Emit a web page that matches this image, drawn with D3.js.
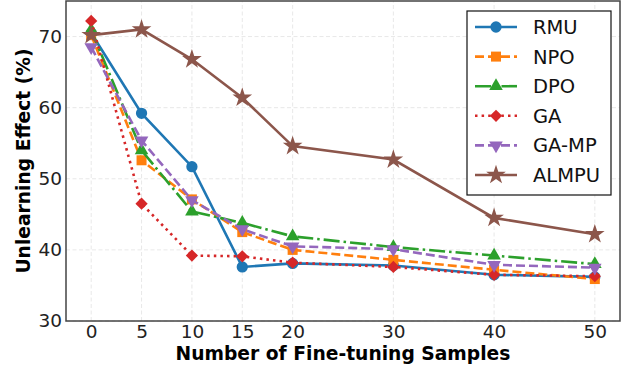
<!DOCTYPE html>
<html>
<head>
<meta charset="utf-8">
<script src="https://cdnjs.cloudflare.com/ajax/libs/d3/7.8.5/d3.min.js"></script>
<style>
  body { margin: 0; background: #fff; }
  svg { font-family: "DejaVu Sans", sans-serif; }
</style>
</head>
<body>
<div id="chart"></div>
<script>
// data
var samples = [0, 5, 10, 15, 20, 30, 40, 50];
var yTicks = [30, 40, 50, 60, 70];
var methods = ["RMU", "NPO", "DPO", "GA", "GA-MP", "ALMPU"];

var rmu   = [70.5, 59.2, 51.7, 37.6, 38.1, 37.8, 36.5, 36.2];
var npo   = [70.2, 52.6, 47.1, 42.5, 40.0, 38.6, 37.2, 35.9];
var dpo   = [70.9, 54.0, 45.4, 43.8, 41.9, 40.4, 39.2, 38.0];
var ga    = [72.2, 46.5, 39.2, 39.1, 38.2, 37.6, 36.5, 36.3];
var gamp  = [68.5, 55.4, 47.0, 42.9, 40.5, 40.1, 37.9, 37.5];
var almpu = [70.2, 71.0, 66.8, 61.4, 54.6, 52.7, 44.5, 42.2];

var seriesValues = [rmu, npo, dpo, ga, gamp, almpu];
var colors = ["#1f77b4", "#ff7f0e", "#2ca02c", "#d62728", "#9467bd", "#8c564b"];
var dashes = [null, "9,4", "16,4,2.5,4", "2.5,4.1", "9,4", null];

var width = 629, height = 371;
var margin = {top: 1, right: 9, bottom: 50, left: 66};

var svg = d3.select("#chart")
  .append("svg")
  .attr("width", width)
  .attr("height", height);

var x = d3.scaleLinear()
  .domain([-2.5, 52.5])
  .range([margin.left, width - margin.right]);

var y = d3.scaleLinear()
  .domain([30, 75])
  .range([height - margin.bottom, margin.top]);

// grid
svg.append("g")
  .selectAll("line.gx")
  .data(samples)
  .enter()
  .append("line")
  .attr("x1", function(d) { return x(d); })
  .attr("x2", function(d) { return x(d); })
  .attr("y1", y(30))
  .attr("y2", y(75))
  .style("stroke", "#e2e2e2")
  .style("stroke-width", 0.8)
  .style("stroke-dasharray", "4,2.5");

svg.append("g")
  .selectAll("line.gy")
  .data(yTicks)
  .enter()
  .append("line")
  .attr("x1", x(-2.5))
  .attr("x2", x(52.5))
  .attr("y1", function(d) { return y(d); })
  .attr("y2", function(d) { return y(d); })
  .style("stroke", "#e2e2e2")
  .style("stroke-width", 0.8)
  .style("stroke-dasharray", "4,2.5");

// axes (no visible tick marks in the reference)
var xAxis = svg.append("g")
  .attr("transform", "translate(0," + y(30) + ")")
  .call(d3.axisBottom(x).tickValues(samples).tickSize(0).tickPadding(4));

var yAxis = svg.append("g")
  .attr("transform", "translate(" + x(-2.5) + ",0)")
  .call(d3.axisLeft(y).tickValues(yTicks).tickSize(0).tickPadding(4));

[xAxis, yAxis].forEach(function(a) {
  a.select(".domain").remove();
  a.selectAll("line").remove();
  a.selectAll("text")
    .style("font-size", "18.5px")
    .style("font-family", "DejaVu Sans")
    .style("fill", "#222");
});

// frame
svg.append("rect")
  .attr("x", x(-2.5))
  .attr("y", y(75))
  .attr("width", x(52.5) - x(-2.5))
  .attr("height", y(30) - y(75))
  .style("fill", "none")
  .style("stroke", "#444")
  .style("stroke-width", 1.5);

// axis labels
svg.append("text")
  .attr("x", (x(-2.5) + x(52.5)) / 2)
  .attr("y", 360)
  .attr("text-anchor", "middle")
  .style("font-size", "18.7px")
  .style("font-weight", "bold")
  .text("Number of Fine-tuning Samples");

svg.append("text")
  .attr("transform", "translate(30," + (y(30) + y(75)) / 2 + ") rotate(-90)")
  .attr("text-anchor", "middle")
  .style("font-size", "18.7px")
  .style("font-weight", "bold")
  .text("Unlearning Effect (%)");

// markers
function markerPath(i) {
  if (i == 0) return d3.symbol(d3.symbolCircle, 100)();
  if (i == 1) return d3.symbol(d3.symbolSquare, 100)();
  if (i == 2) return d3.symbol(d3.symbolTriangle, 80)();
  if (i == 3) return d3.symbol(d3.symbolSquare, 75)();
  if (i == 4) return d3.symbol(d3.symbolTriangle, 80)();
  return d3.symbol(d3.symbolStar, 120)();
}
function markerRotate(i) {
  if (i == 3) return 45;
  if (i == 4) return 180;
  return 0;
}

var line = d3.line()
  .x(function(d, i) { return x(samples[i]); })
  .y(function(d) { return y(d); });

var series = svg.append("g")
  .selectAll("g")
  .data(seriesValues)
  .enter()
  .append("g");

series.append("path")
  .attr("d", function(d) { return line(d); })
  .style("fill", "none")
  .style("stroke", function(d, i) { return colors[i]; })
  .style("stroke-width", 2.6)
  .style("stroke-dasharray", function(d, i) { return dashes[i]; });

series.each(function(vals, si) {
  d3.select(this)
    .selectAll("path.pt")
    .data(vals)
    .enter()
    .append("path")
    .attr("class", "pt")
    .attr("d", markerPath(si))
    .attr("transform", function(d, i) {
      return "translate(" + x(samples[i]) + "," + y(d) + ") rotate(" + markerRotate(si) + ")";
    })
    .style("fill", colors[si]);
});

// legend
var legend = svg.append("g").attr("transform", "translate(467,11)");

legend.append("rect")
  .attr("width", 144)
  .attr("height", 184)
  .style("fill", "#fff")
  .style("stroke", "#111")
  .style("stroke-width", 1.2);

var items = legend.selectAll("g.item")
  .data(methods)
  .enter()
  .append("g")
  .attr("transform", function(d, i) { return "translate(0," + (16 + i * 29.6) + ")"; });

items.append("line")
  .attr("x1", 8)
  .attr("x2", 50)
  .style("stroke", function(d, i) { return colors[i]; })
  .style("stroke-width", 2.6)
  .style("stroke-dasharray", function(d, i) { return dashes[i]; });

items.append("path")
  .attr("d", function(d, i) { return markerPath(i); })
  .attr("transform", function(d, i) { return "translate(29,0) rotate(" + markerRotate(i) + ")"; })
  .style("fill", function(d, i) { return colors[i]; });

items.append("text")
  .attr("x", 66)
  .attr("dy", "0.36em")
  .style("font-size", "19.5px")
  .style("fill", "#111")
  .text(function(d) { return d; });
</script>
</body>
</html>
